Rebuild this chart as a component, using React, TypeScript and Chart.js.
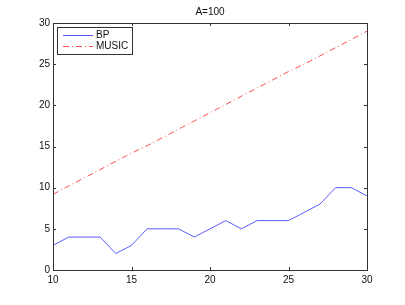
import React, { useEffect, useRef } from "react";
import { Chart, registerables } from "chart.js";

Chart.register(...registerables);

const xValues = [10, 11, 12, 13, 14, 15, 16, 17, 18, 19, 20, 21, 22, 23, 24, 25, 26, 27, 28, 29, 30];
const bpValues = [3, 4, 4, 4, 2, 3, 5, 5, 5, 4, 5, 6, 5, 6, 6, 6, 7, 8, 10, 10, 9];
const musicValues = [9.2, 10.2, 11.2, 12.2, 13.2, 14.2, 15.1, 16.1, 17.1, 18.1, 19.1, 20.1, 21.1, 22.1, 23.1, 24.1, 25.0, 26.0, 27.0, 28.0, 29.0];
const xTicks = [10, 15, 20, 25, 30];
const yTicks = [0, 5, 10, 15, 20, 25, 30];
const titleText = "A=100";
const seriesNames = ["BP", "MUSIC"];

const FONT = "'Liberation Sans', Arial, Helvetica, sans-serif";
const BLUE = "#5c5cff";
const RED = "#ff4d4d";
const MUSIC_DASH = [6, 3, 1, 3];

const decorPlugin = {
  id: "matlabDecor",
  afterDraw(chart: any) {
    const { ctx, chartArea } = chart;
    const { left, right, top, bottom } = chartArea;
    const xs = chart.scales.x;
    const ys = chart.scales.y;
    ctx.save();
    // box
    ctx.strokeStyle = "#333";
    ctx.lineWidth = 1;
    ctx.setLineDash([]);
    ctx.strokeRect(Math.round(left) + 0.5, Math.round(top) + 0.5, Math.round(right - left), Math.round(bottom - top));
    // inward ticks
    const tl = 3;
    ctx.beginPath();
    xTicks.forEach((v) => {
      const px = Math.round(xs.getPixelForValue(v)) + 0.5;
      ctx.moveTo(px, bottom);
      ctx.lineTo(px, bottom - tl);
      ctx.moveTo(px, top);
      ctx.lineTo(px, top + tl);
    });
    yTicks.forEach((v) => {
      const py = Math.round(ys.getPixelForValue(v)) + 0.5;
      ctx.moveTo(left, py);
      ctx.lineTo(left + tl, py);
      ctx.moveTo(right, py);
      ctx.lineTo(right - tl, py);
    });
    ctx.stroke();
    // title
    ctx.fillStyle = "#111";
    ctx.font = `10px ${FONT}`;
    ctx.textAlign = "center";
    ctx.textBaseline = "middle";
    ctx.fillText(titleText, (left + right) / 2, 12);
    // legend
    const lx = Math.round(left) + 4;
    const ly = Math.round(top) + 4;
    const lw = 75;
    const lh = 27;
    ctx.fillStyle = "#fff";
    ctx.fillRect(lx, ly, lw, lh);
    ctx.strokeStyle = "#333";
    ctx.strokeRect(lx + 0.5, ly + 0.5, lw, lh);
    const items = [
      { name: seriesNames[0], color: BLUE, dash: [] as number[] },
      { name: seriesNames[1], color: RED, dash: MUSIC_DASH },
    ];
    items.forEach((it, i) => {
      const y = ly + 8 + i * 11 + 0.5;
      ctx.strokeStyle = it.color;
      ctx.setLineDash(it.dash);
      ctx.beginPath();
      ctx.moveTo(lx + 6, y);
      ctx.lineTo(lx + 36, y);
      ctx.stroke();
      ctx.setLineDash([]);
      ctx.fillStyle = "#111";
      ctx.textAlign = "left";
      ctx.textBaseline = "middle";
      ctx.font = `10px ${FONT}`;
      ctx.fillText(it.name, lx + 39, y);
    });
    ctx.restore();
  },
};

export default function App() {
  const canvasRef = useRef<HTMLCanvasElement | null>(null);

  useEffect(() => {
    const canvas = canvasRef.current;
    if (!canvas) return;
    const chart = new Chart(canvas, {
      type: "line",
      data: {
        datasets: [
          {
            label: seriesNames[0],
            data: xValues.map((x, i) => ({ x, y: bpValues[i] })),
            borderColor: BLUE,
            borderWidth: 1,
            pointRadius: 0,
            tension: 0,
          },
          {
            label: seriesNames[1],
            data: xValues.map((x, i) => ({ x, y: musicValues[i] })),
            borderColor: RED,
            borderWidth: 1,
            borderDash: MUSIC_DASH,
            pointRadius: 0,
            tension: 0,
          },
        ],
      },
      options: {
        animation: false,
        responsive: false,
        maintainAspectRatio: false,
        layout: { padding: { top: 23, right: 38, left: 0, bottom: 0 } },
        plugins: {
          legend: { display: false },
          title: { display: false },
          tooltip: { enabled: false },
        },
        scales: {
          x: {
            type: "linear",
            min: 10,
            max: 30,
            afterBuildTicks: (s: any) => {
              s.ticks = xTicks.map((v) => ({ value: v }));
            },
            afterFit: (s: any) => {
              s.height = 35;
            },
            grid: { display: false, drawTicks: false },
            border: { display: false },
            ticks: {
              padding: 4,
              color: "#111",
              font: { family: FONT, size: 10 },
              maxRotation: 0,
            },
          },
          y: {
            type: "linear",
            min: 0,
            max: 30,
            afterBuildTicks: (s: any) => {
              s.ticks = yTicks.map((v) => ({ value: v }));
            },
            afterFit: (s: any) => {
              s.width = 53;
            },
            grid: { display: false, drawTicks: false },
            border: { display: false },
            ticks: {
              padding: 3,
              color: "#111",
              font: { family: FONT, size: 10 },
            },
          },
        },
      },
      plugins: [decorPlugin],
    });
    return () => chart.destroy();
  }, []);

  return (
    <div style={{ position: "fixed", left: 0, top: 0, width: 405, height: 305, background: "#fff" }}>
      <canvas ref={canvasRef} width={405} height={305} style={{ width: 405, height: 305, display: "block" }} />
    </div>
  );
}
